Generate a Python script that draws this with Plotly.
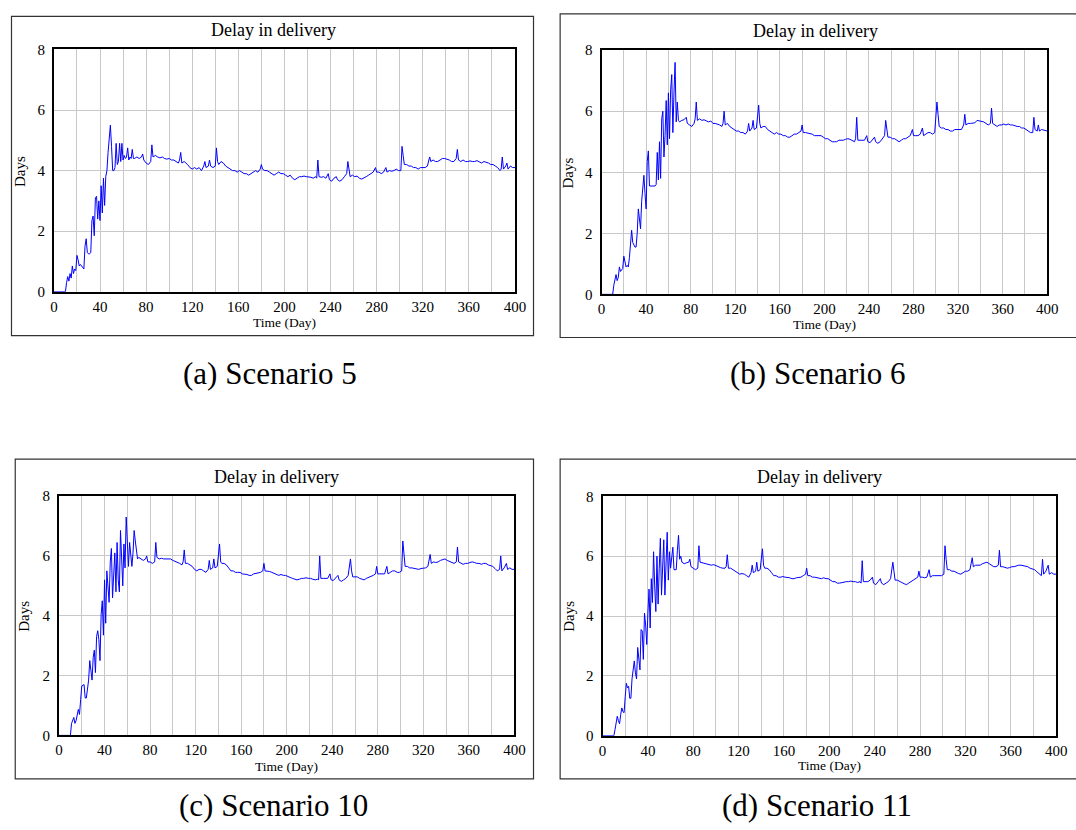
import plotly.graph_objects as go

# ---- data: (day, delay in days) ----
SCENARIO_5 = [
    (0, 0), (10, 0), (11, 0.3), (12, 0.5), (13, 0.35), (14, 0.6), (15, 0.45), (16, 0.85), (17, 0.6),
    (18, 0.75), (19, 0.7), (20, 1.2), (21, 1.05), (22, 0.85), (23, 0.9), (24, 0.85), (25, 0.8),
    (26, 0.75), (27, 1.5), (28, 1.75), (29, 1.3), (30, 1.25), (31, 1.25), (32, 1.3), (33, 2.35),
    (34, 2.5), (35, 1.85), (36, 3.1), (37, 3.15), (38, 2.4), (39, 3.0), (40, 2.35), (41, 3.5),
    (42, 2.6), (43, 3.75), (44, 2.85), (45, 3.8), (46, 4.0), (47, 4.6), (48, 5.2), (49, 5.5),
    (50, 4.8), (51, 4.0), (52, 4.0), (53, 4.1), (54, 4.9), (55, 4.2), (56, 4.3), (57, 4.9),
    (58, 4.3), (59, 4.9), (60, 4.35), (61, 4.5), (62, 4.4), (63, 4.45), (64, 4.75), (65, 4.35),
    (66, 4.45), (67, 4.4), (68, 4.7), (69, 4.4), (70, 4.4), (72, 4.45), (74, 4.4), (76, 4.45),
    (77, 4.55), (78, 4.35), (80, 4.25), (82, 4.2), (84, 4.3), (85, 4.85), (86, 4.45), (88, 4.5),
    (90, 4.45), (92, 4.42), (94, 4.45), (96, 4.4), (98, 4.38), (100, 4.4), (102, 4.35), (104, 4.35),
    (106, 4.3), (108, 4.25), (109, 4.35), (110, 4.6), (111, 4.25), (113, 4.3), (116, 4.2),
    (118, 4.1), (120, 4.05), (122, 4.1), (124, 4.05), (126, 4.1), (128, 4.0), (130, 4.15),
    (131, 4.3), (132, 4.1), (134, 4.15), (135, 4.35), (136, 4.15), (138, 4.1), (140, 4.15),
    (141, 4.75), (142, 4.3), (143, 4.2), (145, 4.3), (147, 4.25), (149, 4.15), (151, 4.1),
    (153, 4.05), (155, 4.0), (157, 4.0), (159, 3.95), (161, 4.0), (163, 3.95), (165, 3.9),
    (167, 3.9), (169, 3.85), (171, 3.9), (173, 3.95), (175, 4.0), (177, 3.95), (179, 4.05),
    (180, 4.2), (181, 4.05), (183, 4.0), (185, 4.0), (187, 3.95), (189, 3.9), (191, 3.85),
    (193, 3.9), (195, 3.95), (197, 3.9), (199, 3.9), (201, 3.85), (203, 3.8), (205, 3.85),
    (207, 3.75), (209, 3.7), (211, 3.75), (213, 3.8), (215, 3.8), (217, 3.82), (219, 3.8),
    (221, 3.8), (223, 3.78), (225, 3.75), (227, 3.8), (228, 3.75), (229, 4.35), (230, 3.8),
    (232, 3.78), (234, 3.8), (236, 3.75), (238, 3.9), (239, 3.7), (241, 3.65), (243, 3.75),
    (245, 3.8), (246, 3.7), (248, 3.65), (250, 3.7), (252, 3.8), (254, 3.9), (255, 4.3),
    (256, 4.05), (257, 3.8), (259, 3.85), (261, 3.8), (263, 3.82), (265, 3.75), (267, 3.72),
    (269, 3.75), (271, 3.8), (273, 3.85), (275, 3.9), (277, 3.95), (279, 4.1), (280, 3.95),
    (282, 3.95), (284, 3.9), (286, 3.95), (288, 4.1), (289, 3.95), (291, 4.0), (293, 3.98),
    (295, 4.0), (297, 4.05), (299, 4.0), (301, 4.0), (302, 4.8), (303, 4.5), (304, 4.2),
    (306, 4.2), (308, 4.15), (310, 4.15), (312, 4.1), (314, 4.1), (316, 4.05), (318, 4.1),
    (320, 4.1), (322, 4.1), (324, 4.15), (326, 4.45), (327, 4.3), (329, 4.35), (331, 4.3),
    (333, 4.3), (335, 4.35), (337, 4.4), (339, 4.4), (341, 4.38), (343, 4.35), (345, 4.3),
    (347, 4.3), (349, 4.4), (350, 4.7), (351, 4.35), (353, 4.3), (355, 4.35), (357, 4.3),
    (359, 4.3), (361, 4.32), (363, 4.3), (365, 4.3), (367, 4.33), (369, 4.3), (371, 4.25),
    (373, 4.3), (375, 4.28), (377, 4.25), (379, 4.2), (381, 4.2), (383, 4.15), (385, 4.1),
    (387, 4.0), (388, 4.05), (389, 4.45), (390, 4.05), (392, 4.15), (393, 4.25), (394, 4.05),
    (396, 4.15), (398, 4.1), (400, 4.1),
]

SCENARIO_6 = [
    (0, 0), (10, 0), (11, 0.3), (12, 0.45), (13, 0.65), (14, 0.45), (15, 0.55), (16, 0.9),
    (17, 0.75), (18, 0.8), (19, 0.85), (20, 1.25), (21, 1.0), (22, 0.9), (23, 0.95), (24, 0.9),
    (25, 1.2), (26, 1.6), (27, 2.1), (28, 1.7), (29, 1.6), (30, 1.55), (31, 1.55), (32, 2.0),
    (33, 2.8), (34, 2.4), (35, 2.15), (36, 3.05), (37, 3.6), (38, 3.9), (39, 3.3), (40, 2.8),
    (41, 4.35), (42, 4.7), (43, 3.55), (44, 3.55), (46, 3.55), (48, 3.55), (49, 3.6), (50, 4.65),
    (51, 3.75), (52, 5.0), (53, 3.8), (54, 5.75), (55, 6.0), (56, 4.5), (57, 5.2), (58, 6.35),
    (59, 4.9), (60, 6.6), (61, 5.1), (62, 6.7), (63, 7.2), (64, 5.3), (65, 6.6), (66, 7.6),
    (67, 5.65), (68, 6.3), (69, 5.7), (70, 5.65), (72, 5.7), (74, 5.72), (76, 5.8), (77, 5.6),
    (79, 5.55), (81, 5.5), (83, 5.6), (84, 5.75), (85, 6.3), (86, 5.7), (88, 5.75), (90, 5.7),
    (92, 5.72), (94, 5.68), (96, 5.65), (98, 5.68), (100, 5.6), (102, 5.6), (104, 5.58),
    (106, 5.55), (108, 5.5), (109, 5.6), (110, 6.0), (111, 5.55), (113, 5.6), (115, 5.5),
    (117, 5.45), (119, 5.4), (121, 5.35), (123, 5.35), (125, 5.3), (127, 5.3), (129, 5.25),
    (131, 5.35), (132, 5.6), (133, 5.35), (135, 5.45), (136, 5.7), (137, 5.4), (139, 5.45),
    (141, 6.2), (142, 5.6), (143, 5.45), (145, 5.5), (147, 5.5), (149, 5.4), (151, 5.35),
    (153, 5.3), (155, 5.25), (157, 5.3), (159, 5.25), (161, 5.25), (163, 5.2), (165, 5.2),
    (167, 5.15), (169, 5.15), (171, 5.2), (173, 5.25), (175, 5.25), (177, 5.3), (179, 5.35),
    (180, 5.55), (181, 5.3), (183, 5.3), (185, 5.28), (187, 5.25), (189, 5.25), (191, 5.2),
    (193, 5.2), (195, 5.18), (197, 5.2), (199, 5.15), (201, 5.1), (203, 5.1), (205, 5.05),
    (207, 5.0), (209, 5.0), (211, 5.0), (213, 5.05), (215, 5.05), (217, 5.05), (219, 5.08),
    (221, 5.1), (223, 5.08), (225, 5.05), (227, 5.0), (228, 5.1), (229, 5.8), (230, 5.05),
    (232, 5.05), (234, 5.05), (236, 5.05), (238, 5.2), (239, 5.0), (241, 4.97), (243, 5.05),
    (245, 5.15), (246, 5.0), (248, 4.95), (250, 5.0), (252, 5.1), (254, 5.2), (255, 5.7),
    (256, 5.45), (257, 5.15), (259, 5.15), (261, 5.1), (263, 5.1), (265, 5.05), (267, 5.0),
    (269, 5.05), (271, 5.1), (273, 5.1), (275, 5.15), (277, 5.2), (279, 5.4), (280, 5.2),
    (282, 5.2), (284, 5.2), (286, 5.25), (288, 5.45), (289, 5.2), (291, 5.25), (293, 5.3),
    (295, 5.3), (297, 5.25), (299, 5.3), (301, 6.3), (302, 5.9), (303, 5.5), (305, 5.45),
    (307, 5.45), (309, 5.4), (311, 5.4), (313, 5.35), (315, 5.35), (317, 5.4), (319, 5.4),
    (321, 5.38), (323, 5.4), (325, 5.55), (326, 5.9), (327, 5.55), (329, 5.6), (331, 5.6),
    (333, 5.6), (335, 5.62), (337, 5.7), (339, 5.68), (341, 5.66), (343, 5.65), (345, 5.6),
    (347, 5.55), (349, 5.6), (350, 6.1), (351, 5.6), (353, 5.55), (355, 5.5), (357, 5.55),
    (359, 5.55), (361, 5.58), (363, 5.55), (365, 5.58), (367, 5.55), (369, 5.55), (371, 5.52),
    (373, 5.5), (375, 5.5), (377, 5.45), (379, 5.45), (381, 5.4), (383, 5.35), (385, 5.3),
    (387, 5.3), (388, 5.8), (389, 5.4), (391, 5.35), (392, 5.55), (393, 5.35), (395, 5.4),
    (397, 5.38), (400, 5.35),
]

SCENARIO_10 = [
    (0, 0), (10, 0), (11, 0.4), (13, 0.6), (14, 0.4), (15, 0.5), (17, 0.87), (18, 0.7),
    (19, 1.2), (20, 1.65), (22, 1.7), (23, 1.25), (24, 1.25), (25, 1.5), (26, 1.85), (27, 2.5),
    (28, 2.2), (29, 1.85), (30, 2.6), (31, 2.85), (32, 2.1), (33, 3.3), (34, 3.5), (35, 3.2),
    (36, 2.5), (37, 4.05), (38, 4.5), (39, 3.35), (40, 5.2), (41, 3.75), (42, 5.5), (43, 4.9),
    (44, 4.45), (45, 5.8), (46, 6.25), (47, 4.6), (48, 5.5), (49, 6.1), (50, 4.8), (51, 6.45),
    (52, 5.2), (53, 4.8), (54, 6.85), (55, 5.8), (56, 5.0), (57, 6.4), (58, 5.6), (59, 7.3),
    (60, 6.5), (61, 5.65), (62, 6.45), (63, 6.0), (64, 5.65), (65, 6.1), (66, 6.85), (67, 6.5),
    (68, 6.1), (69, 5.9), (70, 5.95), (72, 5.9), (74, 5.85), (76, 5.9), (77, 6.0), (78, 5.8),
    (80, 5.8), (82, 5.75), (84, 5.8), (85, 6.45), (86, 5.95), (88, 5.9), (90, 5.92), (92, 5.9),
    (94, 5.9), (96, 5.88), (98, 5.9), (100, 5.85), (102, 5.82), (104, 5.8), (106, 5.75),
    (108, 5.7), (109, 5.8), (110, 6.2), (111, 5.75), (113, 5.75), (115, 5.7), (117, 5.65),
    (119, 5.55), (121, 5.5), (123, 5.55), (125, 5.55), (127, 5.5), (129, 5.45), (131, 5.55),
    (132, 5.85), (133, 5.55), (135, 5.6), (136, 5.9), (137, 5.6), (139, 5.65), (141, 6.4),
    (142, 5.8), (143, 5.75), (145, 5.75), (147, 5.7), (149, 5.6), (151, 5.5), (153, 5.5),
    (155, 5.45), (157, 5.45), (159, 5.45), (161, 5.4), (163, 5.4), (165, 5.38), (167, 5.35),
    (169, 5.35), (171, 5.4), (173, 5.42), (175, 5.45), (177, 5.45), (179, 5.5), (180, 5.75),
    (181, 5.5), (183, 5.5), (185, 5.48), (187, 5.45), (189, 5.42), (191, 5.4), (193, 5.35),
    (195, 5.38), (197, 5.35), (199, 5.35), (201, 5.3), (203, 5.28), (205, 5.25), (207, 5.22),
    (209, 5.2), (211, 5.22), (213, 5.25), (215, 5.25), (217, 5.27), (219, 5.25), (221, 5.25),
    (223, 5.22), (225, 5.2), (227, 5.22), (228, 5.2), (229, 6.0), (230, 5.25), (232, 5.25),
    (234, 5.25), (236, 5.25), (238, 5.4), (239, 5.2), (241, 5.18), (243, 5.25), (245, 5.35),
    (246, 5.2), (248, 5.15), (250, 5.2), (252, 5.25), (254, 5.35), (256, 5.9), (257, 5.5),
    (258, 5.3), (260, 5.3), (262, 5.3), (264, 5.25), (266, 5.22), (268, 5.2), (270, 5.25),
    (272, 5.28), (274, 5.3), (276, 5.35), (278, 5.4), (279, 5.65), (280, 5.4), (282, 5.4),
    (284, 5.38), (286, 5.4), (288, 5.65), (289, 5.4), (291, 5.45), (293, 5.5), (295, 5.5),
    (297, 5.45), (299, 5.45), (301, 5.5), (302, 6.5), (303, 6.0), (304, 5.65), (306, 5.65),
    (308, 5.6), (310, 5.6), (312, 5.58), (314, 5.55), (316, 5.55), (318, 5.58), (320, 5.6),
    (322, 5.6), (324, 5.65), (326, 6.05), (327, 5.75), (329, 5.8), (331, 5.78), (333, 5.8),
    (335, 5.85), (337, 5.88), (339, 5.9), (341, 5.85), (343, 5.82), (345, 5.8), (347, 5.75),
    (349, 5.8), (350, 6.3), (351, 5.8), (353, 5.75), (355, 5.72), (357, 5.75), (359, 5.75),
    (361, 5.78), (363, 5.8), (365, 5.78), (367, 5.75), (369, 5.75), (371, 5.72), (373, 5.75),
    (375, 5.75), (377, 5.7), (379, 5.68), (381, 5.65), (383, 5.58), (385, 5.5), (387, 5.55),
    (388, 6.0), (389, 5.5), (391, 5.6), (393, 5.75), (394, 5.55), (396, 5.6), (398, 5.55),
    (400, 5.55),
]

SCENARIO_11 = [
    (0, 0), (10, 0), (11, 0.2), (12, 0.45), (13, 0.65), (14, 0.5), (15, 0.4), (16, 0.7),
    (17, 0.93), (18, 0.8), (19, 0.77), (20, 1.3), (21, 1.75), (22, 1.6), (23, 1.65), (24, 1.25),
    (25, 1.25), (26, 1.9), (27, 2.3), (28, 2.5), (29, 2.1), (30, 1.9), (31, 2.95), (32, 2.4),
    (33, 2.2), (34, 3.55), (35, 3.5), (36, 2.55), (37, 4.1), (38, 3.7), (39, 3.05), (40, 4.1),
    (41, 4.9), (42, 3.6), (43, 5.25), (44, 4.45), (45, 6.15), (46, 5.0), (47, 4.15), (48, 6.0),
    (49, 4.4), (50, 5.6), (51, 6.6), (52, 4.7), (53, 5.6), (54, 6.55), (55, 4.7), (56, 5.8),
    (57, 6.8), (58, 5.2), (59, 6.15), (60, 5.6), (61, 6.0), (62, 6.3), (63, 5.55), (64, 5.55),
    (65, 5.55), (66, 6.2), (67, 6.7), (68, 5.9), (69, 6.0), (70, 5.8), (72, 5.75), (74, 5.78),
    (76, 5.8), (77, 5.9), (78, 5.65), (80, 5.6), (82, 5.55), (84, 5.6), (85, 6.35), (86, 5.8),
    (88, 5.78), (90, 5.75), (92, 5.75), (94, 5.72), (96, 5.7), (98, 5.72), (100, 5.68),
    (102, 5.65), (104, 5.62), (106, 5.6), (108, 5.6), (109, 5.65), (110, 6.05), (111, 5.6),
    (113, 5.6), (115, 5.55), (117, 5.5), (119, 5.45), (121, 5.4), (123, 5.42), (125, 5.4),
    (127, 5.35), (129, 5.3), (131, 5.45), (132, 5.7), (133, 5.45), (135, 5.5), (136, 5.8),
    (137, 5.5), (139, 5.55), (141, 6.25), (142, 5.7), (143, 5.6), (145, 5.6), (147, 5.55),
    (149, 5.45), (151, 5.35), (153, 5.35), (155, 5.3), (157, 5.3), (159, 5.32), (161, 5.3),
    (163, 5.3), (165, 5.28), (167, 5.25), (169, 5.25), (171, 5.28), (173, 5.3), (175, 5.3),
    (177, 5.35), (179, 5.4), (180, 5.6), (181, 5.35), (183, 5.35), (185, 5.3), (187, 5.3),
    (189, 5.28), (191, 5.25), (193, 5.25), (195, 5.28), (197, 5.25), (199, 5.25), (201, 5.2),
    (203, 5.15), (205, 5.15), (207, 5.1), (209, 5.1), (211, 5.12), (213, 5.15), (215, 5.15),
    (217, 5.15), (219, 5.17), (221, 5.15), (223, 5.15), (225, 5.12), (227, 5.15), (228, 5.1),
    (229, 5.85), (230, 5.15), (232, 5.15), (234, 5.15), (236, 5.2), (238, 5.3), (239, 5.1),
    (241, 5.05), (243, 5.15), (245, 5.25), (246, 5.1), (248, 5.05), (250, 5.1), (252, 5.15),
    (254, 5.25), (256, 5.8), (257, 5.5), (258, 5.2), (260, 5.2), (262, 5.15), (264, 5.12),
    (266, 5.08), (268, 5.05), (270, 5.1), (272, 5.15), (274, 5.2), (276, 5.25), (278, 5.3),
    (279, 5.5), (280, 5.3), (282, 5.3), (284, 5.28), (286, 5.3), (288, 5.55), (289, 5.3),
    (291, 5.35), (293, 5.35), (295, 5.35), (297, 5.35), (299, 5.35), (301, 5.4), (302, 6.35),
    (303, 5.9), (304, 5.55), (306, 5.55), (308, 5.5), (310, 5.5), (312, 5.45), (314, 5.42),
    (316, 5.4), (318, 5.45), (320, 5.5), (322, 5.5), (324, 5.55), (326, 5.95), (327, 5.65),
    (329, 5.7), (331, 5.7), (333, 5.7), (335, 5.75), (337, 5.78), (339, 5.8), (341, 5.75),
    (343, 5.7), (345, 5.65), (347, 5.65), (349, 5.7), (350, 6.2), (351, 5.65), (353, 5.65),
    (355, 5.62), (357, 5.6), (359, 5.62), (361, 5.65), (363, 5.65), (365, 5.68), (367, 5.7),
    (369, 5.7), (371, 5.68), (373, 5.65), (375, 5.65), (377, 5.6), (379, 5.58), (381, 5.55),
    (383, 5.48), (385, 5.4), (387, 5.35), (388, 5.9), (389, 5.4), (391, 5.5), (393, 5.7),
    (394, 5.4), (396, 5.45), (398, 5.4), (400, 5.4),
]

SERIES = [SCENARIO_5, SCENARIO_6, SCENARIO_10, SCENARIO_11]
PANEL_TITLE = "Delay in delivery"
CAPTIONS = ["(a) Scenario 5", "(b) Scenario 6", "(c) Scenario 10", "(d) Scenario 11"]
X_TITLE = "Time (Day)"
Y_TITLE = "Days"
X_TICKS = list(range(0, 401, 40))
Y_TICKS = [0, 2, 4, 6, 8]

# ---- layout geometry (pixels in the 1076 x 830 page) ----
W, H = 1076, 830
# plot areas: (left, right, top, bottom)
PLOTS = [(50.6, 518.2, 42.3, 289.3), (606, 1058, 43, 292),
         (55.8, 517.6, 497.7, 741.7), (607, 1067, 498, 742)]
FRAMES = [(7.6, 537, 8.5, 334), (564, 1090, 6, 336), (11.4, 537, 460, 786), (564, 1090, 460, 786)]
TITLE_POS = [(273.5, 22), (822.5, 23), (276.5, 478), (827, 478)]
XTITLE_POS = [(284.5, 321), (832.5, 323), (286.7, 773), (837.3, 772)]
YTITLE_POS = [(15.5, 167), (571.7, 168), (20, 620), (572.7, 620)]
CAPTION_POS = [(270, 373), (826, 373), (273, 813), (825, 813)]

SERIF = "Liberation Serif, Times New Roman, serif"
GRID = "#c8c8c8"


def px(x):
    return x / W


def py(y):
    return 1 - y / H


fig = go.Figure()
annotations = []
shapes = []
for i, data in enumerate(SERIES):
    n = i + 1
    xa = "x" if n == 1 else f"x{n}"
    ya = "y" if n == 1 else f"y{n}"
    days = [d for d, _ in data]
    vals = [v for _, v in data]
    fig.add_trace(go.Scatter(x=days, y=vals, mode="lines", xaxis=xa, yaxis=ya,
                             line=dict(color="#0000ff", width=1), showlegend=False,
                             hoverinfo="x+y"))
    l, r, t, b = PLOTS[i]
    axis_common = dict(showgrid=True, gridcolor=GRID, gridwidth=1, zeroline=False,
                       showline=True, linecolor="black", linewidth=2, mirror=True,
                       ticks="", tickfont=dict(family=SERIF, size=15, color="black"),
                       fixedrange=True)
    fig.layout[f"xaxis{'' if n == 1 else n}"] = dict(
        axis_common, domain=[px(l), px(r)], range=[0, 400], tickvals=X_TICKS,
        minor=dict(dtick=20, showgrid=True, gridcolor=GRID, gridwidth=1),
        anchor=ya, ticklabelstandoff=0)
    fig.layout[f"yaxis{'' if n == 1 else n}"] = dict(
        axis_common, domain=[py(b), py(t)], range=[0, 8], tickvals=Y_TICKS,
        anchor=xa, ticklabelstandoff=4)

    annotations.append(dict(text=PANEL_TITLE, x=px(TITLE_POS[i][0]), y=py(TITLE_POS[i][1]),
                            xref="paper", yref="paper", showarrow=False,
                            xanchor="center", yanchor="middle",
                            font=dict(family=SERIF, size=18, color="black")))
    annotations.append(dict(text=X_TITLE, x=px(XTITLE_POS[i][0]), y=py(XTITLE_POS[i][1]),
                            xref="paper", yref="paper", showarrow=False,
                            xanchor="center", yanchor="middle",
                            font=dict(family=SERIF, size=13.5, color="black")))
    annotations.append(dict(text=Y_TITLE, x=px(YTITLE_POS[i][0]), y=py(YTITLE_POS[i][1]),
                            xref="paper", yref="paper", showarrow=False, textangle=-90,
                            xanchor="center", yanchor="middle",
                            font=dict(family=SERIF, size=15, color="black")))
    annotations.append(dict(text=CAPTIONS[i], x=px(CAPTION_POS[i][0]), y=py(CAPTION_POS[i][1]),
                            xref="paper", yref="paper", showarrow=False,
                            xanchor="center", yanchor="middle",
                            font=dict(family=SERIF, size=31, color="black")))
    fl, fr, ft, fb = FRAMES[i]
    shapes.append(dict(type="rect", xref="paper", yref="paper",
                       x0=px(fl), x1=px(fr), y0=py(fb), y1=py(ft),
                       line=dict(color="#333333", width=1.2), fillcolor="rgba(0,0,0,0)",
                       layer="below"))

fig.update_layout(width=W, height=H, margin=dict(l=0, r=0, t=0, b=0),
                  paper_bgcolor="white", plot_bgcolor="white",
                  annotations=annotations, shapes=shapes, showlegend=False)

fig.write_html("out.html", include_plotlyjs=True, config={"displayModeBar": False})
